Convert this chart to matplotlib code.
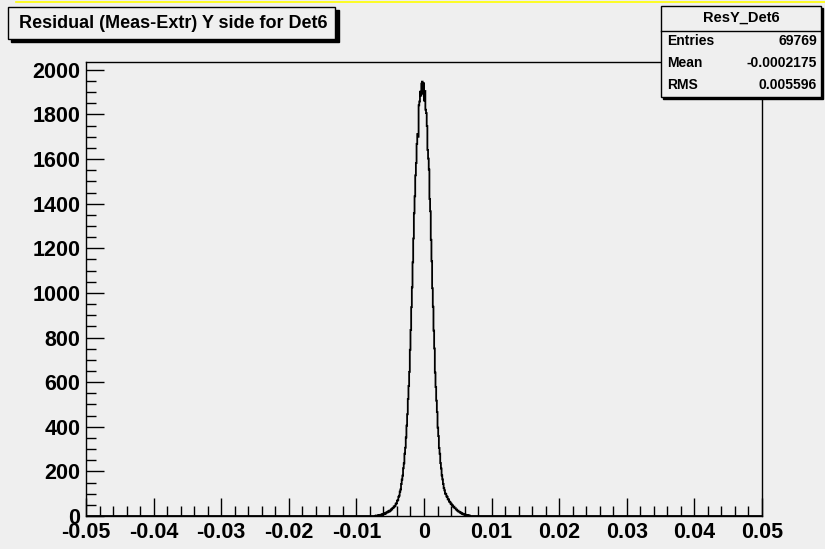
# ResY_Det6 residual histogram, ROOT-like look

import numpy as np
import matplotlib.pyplot as plt
from matplotlib.patches import Rectangle
from matplotlib.lines import Line2D
from matplotlib.ticker import MultipleLocator

plt.rcParams['font.family'] = ['Liberation Sans', 'DejaVu Sans']
plt.rcParams['font.weight'] = 'bold'

# binning: 1000 bins of 0.0001 between -0.05 and 0.05
bin_lo = -0.05
bin_hi = 0.05
n_bins = 1000
core_start = -0.0073   # lower edge of first listed bin

# bin contents (bins outside this list are empty)
left_counts = [0, 1, 2, 1, 1, 3, 2, 4, 3, 6,
               5, 8, 7, 10, 9, 13, 11, 16, 15, 19,
               21, 19, 25, 24, 30, 29, 35, 36, 42, 43,
               46, 55, 57, 68, 72, 86, 91, 109, 119, 143,
               163, 181, 214, 236, 279, 306, 352, 405, 456, 524,
               583, 646, 745, 834, 936, 1025, 1137, 1244, 1357, 1433,
               1527, 1582, 1668, 1712, 1700, 1841, 1858, 1902, 1884, 1938]
peak_counts = [1947]
right_counts = [1893, 1940, 1862, 1905, 1821, 1806, 1748, 1641, 1602, 1553,
                1421, 1366, 1238, 1142, 1021, 938, 831, 751, 643, 578,
                517, 466, 396, 358, 305, 279, 237, 213, 182, 164,
                144, 125, 115, 101, 98, 88, 86, 75, 74, 65,
                63, 56, 55, 48, 47, 41, 42, 35, 35, 29,
                29, 24, 24, 19, 19, 15, 16, 12, 11, 10,
                7, 8, 5, 6, 3, 4, 2, 3, 1, 2]

xtick_vals = [-0.05, -0.04, -0.03, -0.02, -0.01, 0, 0.01, 0.02, 0.03, 0.04, 0.05]
xtick_labels = ['-0.05', '-0.04', '-0.03', '-0.02', '-0.01', '0',
                '0.01', '0.02', '0.03', '0.04', '0.05']
ytick_vals = [0, 200, 400, 600, 800, 1000, 1200, 1400, 1600, 1800, 2000]

title = 'Residual (Meas-Extr) Y side for Det6'
stats_name = 'ResY_Det6'
stats_rows = [('Entries', '69769'), ('Mean', '-0.0002175'), ('RMS', '0.005596')]

W, H = 825, 549
bg = '#efefef'

def fx(x):
    return x / W

def fy(y):
    return 1 - y / H

fig = plt.figure(figsize=(W / 100, H / 100), dpi=100, facecolor=bg)
ax = fig.add_axes([fx(86), fy(516), (762 - 86) / W, (516 - 62) / H])
ax.set_facecolor(bg)

edges = np.linspace(bin_lo, bin_hi, n_bins + 1)
counts = np.zeros(n_bins)
core = left_counts + peak_counts + right_counts
i0 = int(round((core_start - bin_lo) / 0.0001))
counts[i0:i0 + len(core)] = core
ax.stairs(counts, edges, color='black', lw=1.3)

ax.set_xlim(bin_lo, bin_hi)
ax.set_ylim(0, 2035)
ax.set_xticks(xtick_vals)
ax.set_xticklabels(xtick_labels)
ax.set_yticks(ytick_vals)
ax.xaxis.set_minor_locator(MultipleLocator(0.002))
ax.yaxis.set_minor_locator(MultipleLocator(50))
ax.tick_params(which='both', direction='in', top=False, right=False,
               labelsize=15.5, width=1)
ax.tick_params(which='major', length=13)
ax.tick_params(which='minor', length=7)
ax.tick_params(axis='x', pad=4)
ax.tick_params(axis='y', pad=4)
for lab in ax.get_xticklabels() + ax.get_yticklabels():
    lab.set_fontweight('bold')
for sp in ax.spines.values():
    sp.set_linewidth(1)

# thin yellow line at the very top
fig.add_artist(Line2D([fx(16), fx(825)], [fy(2), fy(2)], color='#ffff00', lw=1.2))

# title box with shadow
fig.add_artist(Rectangle((fx(11), fy(42)), (338 - 10) / W, (42 - 10) / H,
                         transform=fig.transFigure, facecolor='black', edgecolor='black'))
fig.add_artist(Rectangle((fx(8), fy(39)), (335 - 8) / W, (39 - 7) / H,
                         transform=fig.transFigure, facecolor=bg, edgecolor='black', lw=1))
fig.text(fx(173), fy(23.5), title, ha='center', va='center', fontsize=13,
         fontweight='bold')

# stats box with shadow
fig.add_artist(Rectangle((fx(663), fy(99)), (823 - 663) / W, (99 - 8) / H,
                         transform=fig.transFigure, facecolor='black', edgecolor='black'))
fig.add_artist(Rectangle((fx(661), fy(97)), (821 - 661) / W, (97 - 6) / H,
                         transform=fig.transFigure, facecolor=bg, edgecolor='black', lw=1))
fig.add_artist(Line2D([fx(661), fx(821)], [fy(31), fy(31)], color='black', lw=1))
fig.text(fx(741), fy(18), stats_name, ha='center', va='center', fontsize=10.5,
         fontweight='bold')
row_y = [41, 63, 85]
for (name, val), yy in zip(stats_rows, row_y):
    fig.text(fx(667), fy(yy), name, ha='left', va='center', fontsize=10,
             fontweight='bold')
    fig.text(fx(817), fy(yy), val, ha='right', va='center', fontsize=10,
             fontweight='bold')

fig.savefig('out.png', dpi=100, facecolor=bg)
